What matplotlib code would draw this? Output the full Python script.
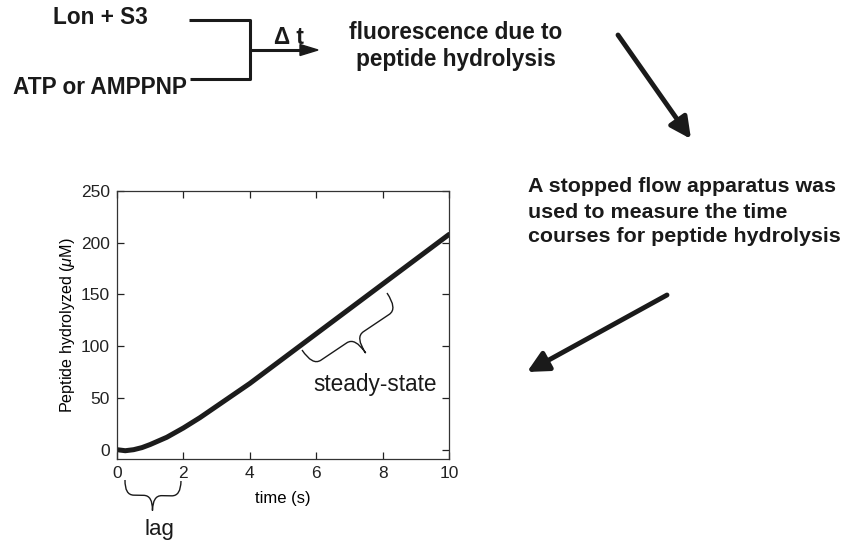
import matplotlib
matplotlib.use("Agg")
import matplotlib.pyplot as plt
from matplotlib.path import Path
from matplotlib.patches import PathPatch
import matplotlib.transforms as mtransforms
import numpy as np

plt.rcParams['font.family'] = ['Liberation Sans', 'DejaVu Sans']
plt.rcParams['mathtext.fontset'] = 'custom'
plt.rcParams['mathtext.it'] = 'Liberation Sans:italic'
plt.rcParams['mathtext.rm'] = 'Liberation Sans'

# ---- data ----
time_s = [0, 0.25, 0.5, 0.75, 1, 1.5, 2, 2.5, 3, 3.5, 4, 4.5, 5, 5.5,
          6, 6.5, 7, 7.5, 8, 8.5, 9, 9.5, 10]
peptide_uM = [0, -1, 0, 2, 5, 12, 21, 31, 42, 53, 64, 76, 88, 100,
              112, 124, 136, 148, 160, 172, 184, 196, 208]
x_ticks = [0, 2, 4, 6, 8, 10]
y_ticks = [0, 50, 100, 150, 200, 250]

W, H = 845, 542
fig = plt.figure(figsize=(W / 100, H / 100), dpi=100)
# pixel transform (origin top-left, like the reference image)
px = mtransforms.Affine2D().scale(1 / W, -1 / H).translate(0, 1) + fig.transFigure

ax = fig.add_axes([117 / W, 1 - 459 / H, (449 - 117) / W, (459 - 191) / H])
ax.plot(time_s, peptide_uM, color='#1c1c1c', lw=3.6, solid_capstyle='round')
ax.set_xlim(0, 10)
ax.set_ylim(-9, 250)
ax.set_xticks(x_ticks)
ax.set_yticks(y_ticks)
ax.tick_params(direction='in', length=5, width=0.9, top=True, right=True,
               labelsize=12.5, pad=5, colors='#222222')
for s in ax.spines.values():
    s.set_linewidth(0.9)
    s.set_color('#333333')
ax.set_xlabel('time (s)', fontsize=12, labelpad=7)
ax.set_ylabel(r'Peptide hydrolyzed ($\mu$M)', fontsize=11.6, labelpad=3)

# ---- diagram text ----
bold = dict(fontweight='bold', color='#1a1a1a', transform=px)
fig.text(100, 18, 'Lon + S3', ha='center', va='center', fontsize=16.3, **bold)
fig.text(13, 88, 'ATP or AMPPNP', ha='left', va='center', fontsize=16.3, **bold)
fig.text(289, 38, 'Δ t', ha='center', va='center', fontsize=16.3, **bold)
fig.text(456, 46, 'fluorescence due to\npeptide hydrolysis', ha='center',
         va='center', linespacing=1.27, fontsize=16.3, **bold)
fig.text(528, 212, 'A stopped flow apparatus was\nused to measure the time\ncourses for peptide hydrolysis',
         ha='left', va='center', linespacing=1.4, fontsize=15.4, **bold)
fig.text(375, 385, 'steady-state', ha='center', va='center', fontsize=16.3,
         color='#1a1a1a', transform=px)
fig.text(159, 530, 'lag', ha='center', va='center', fontsize=16,
         color='#1a1a1a', transform=px)

# ---- connector lines ----
lk = dict(color='#1a1a1a', lw=2.2, transform=px, solid_capstyle='butt')
fig.add_artist(plt.Line2D([189, 250, 250, 190], [20, 20, 79, 79], **lk))
fig.add_artist(plt.Line2D([250, 305], [50, 50], **lk))
fig.add_artist(matplotlib.patches.FancyArrow(300, 50, 18, 0, width=0.1,
               head_width=11, head_length=18, length_includes_head=True,
               color='#1a1a1a', transform=px))

def arrow(x0, y0, x1, y1):
    a = matplotlib.patches.FancyArrowPatch((x0, y0), (x1, y1),
        arrowstyle='-|>,head_length=0.9,head_width=0.45', mutation_scale=14,
        lw=3.5, color='#1a1a1a', transform=px, shrinkA=0, shrinkB=0)
    fig.add_artist(a)

arrow(618, 35, 691, 139)
arrow(667, 295, 527, 372)

# ---- braces ----
def brace(p1, p2, d, r):
    p1 = np.array(p1, float); p2 = np.array(p2, float)
    v = p2 - p1; L = np.hypot(*v); u = v / L
    n = np.array([-u[1], u[0]])
    def P(s, t):
        return p1 + s * u + t * n
    h = d / 2
    verts = [P(0, 0), P(0, h), P(r, h), P(L / 2 - r, h), P(L / 2, h), P(L / 2, d),
             P(L / 2, h), P(L / 2 + r, h), P(L - r, h), P(L, h), P(L, 0)]
    codes = [Path.MOVETO, Path.CURVE3, Path.CURVE3, Path.LINETO, Path.CURVE3, Path.CURVE3,
             Path.CURVE3, Path.CURVE3, Path.LINETO, Path.CURVE3, Path.CURVE3]
    fig.add_artist(PathPatch(Path(verts, codes), fill=False, lw=1.0,
                             edgecolor='#1a1a1a', transform=px))

brace((125, 480), (181, 481), 30, 9)
brace((302, 350), (387, 293), 38, 10)

fig.savefig('out.png', dpi=100, facecolor='white')
